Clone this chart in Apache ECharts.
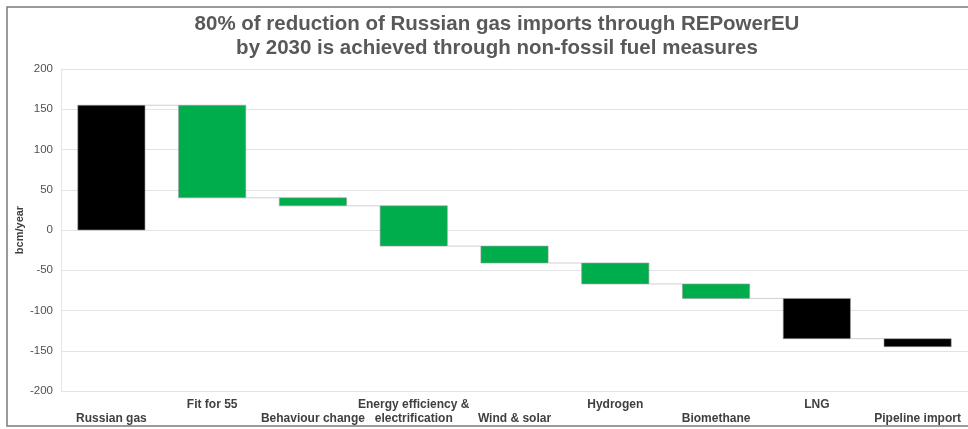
<!DOCTYPE html>
<html>
<head>
<meta charset="utf-8">
<title>REPowerEU waterfall</title>
<script src="https://cdn.jsdelivr.net/npm/echarts@6/dist/echarts.min.js"></script>
<style>
  html, body { margin: 0; padding: 0; background: #fff; }
  #main { width: 968px; height: 429px; }
</style>
</head>
<body>
<div id="main"></div>
<script type="text/javascript">
// categories along the x axis
var categories = ['Russian gas', 'Fit for 55', 'Behaviour change', 'Energy efficiency &\nelectrification',
  'Wind & solar', 'Hydrogen', 'Biomethane', 'LNG', 'Pipeline import'];
// change in bcm/year contributed by each step
var changes = [155, -115, -10, -50, -21, -26, -18, -50, -10];
// gas supply steps (black) vs non-fossil measures (green)
var isGasSupply = [true, false, false, false, false, false, false, true, true];
var yTicks = { min: -200, max: 200, step: 50 };

var steps = [];
var level = 0;
for (var i = 0; i < changes.length; i++) {
  var start = level;
  level += changes[i];
  steps.push([i, start, level]);
}

var font = 'Liberation Sans, Arial, sans-serif';
var myChart = echarts.init(document.getElementById('main'));
var option = {
  animation: false,
  title: {
    text: '80% of reduction of Russian gas imports through REPowerEU\nby 2030 is achieved through non-fossil fuel measures',
    left: 492,
    textAlign: 'center',
    top: 7,
    textStyle: {
      fontFamily: font,
      fontSize: 20.5,
      fontWeight: 'bold',
      color: '#595959',
      lineHeight: 24
    }
  },
  graphic: [{
    type: 'rect',
    shape: { x: 7, y: 7, width: 990, height: 419 },
    style: { fill: 'none', stroke: '#7a7a7a', lineWidth: 1.5 },
    silent: true
  }],
  grid: { left: 61, right: -6, top: 69, bottom: 38 },
  xAxis: {
    type: 'category',
    data: categories,
    axisLine: { show: false },
    axisTick: { show: false },
    axisLabel: {
      interval: 0,
      margin: 7,
      fontFamily: font,
      fontSize: 12,
      fontWeight: 'bold',
      color: '#404040',
      lineHeight: 14,
      formatter: function (v, idx) {
        return idx % 2 === 0 ? '\n' + v : v;
      }
    }
  },
  yAxis: {
    type: 'value',
    min: yTicks.min,
    max: yTicks.max,
    interval: yTicks.step,
    name: 'bcm/year',
    nameLocation: 'middle',
    nameRotate: 90,
    nameGap: 36,
    nameMoveOverlap: false,
    nameTextStyle: {
      fontFamily: font,
      fontSize: 11,
      fontWeight: 'bold',
      color: '#404040'
    },
    axisLine: { show: true, lineStyle: { color: '#e3e3e3' } },
    axisTick: { show: false },
    axisLabel: {
      margin: 8,
      fontFamily: font,
      fontSize: 11.5,
      color: '#505050'
    },
    splitLine: { lineStyle: { color: '#e3e3e3', width: 1 } }
  },
  series: [{
    type: 'custom',
    data: steps,
    encode: { x: 0, y: [1, 2] },
    renderItem: function (params, api) {
      var idx = api.value(0);
      var a = api.coord([idx, api.value(1)]);
      var b = api.coord([idx, api.value(2)]);
      var bw = api.size([1, 0])[0] * 0.667;
      var top = Math.min(a[1], b[1]);
      var h = Math.abs(a[1] - b[1]);
      var children = [{
        type: 'rect',
        shape: { x: a[0] - bw / 2, y: top, width: bw, height: h },
        style: {
          fill: isGasSupply[idx] ? '#000000' : '#00ad4c',
          stroke: '#9a9a9a',
          lineWidth: 0.6
        }
      }];
      if (idx < steps.length - 1) {
        var n = api.coord([idx + 1, api.value(2)]);
        children.push({
          type: 'line',
          shape: { x1: a[0] + bw / 2, y1: b[1], x2: n[0] - bw / 2, y2: b[1] },
          style: { stroke: '#d0d0d0', lineWidth: 1 }
        });
      }
      return { type: 'group', children: children };
    }
  }]
};
myChart.setOption(option);
</script>
</body>
</html>
